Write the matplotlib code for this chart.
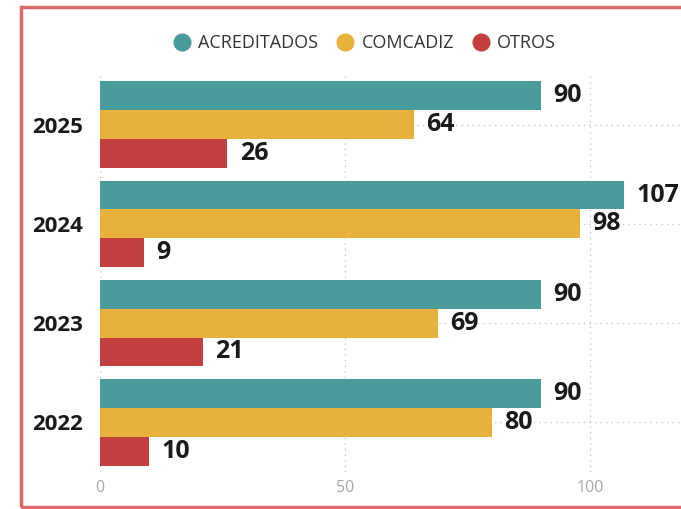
import matplotlib.pyplot as plt
import numpy as np
from matplotlib.patches import Rectangle
from matplotlib.lines import Line2D

years = ["2022", "2023", "2024", "2025"]
acreditados = [90, 90, 107, 90]
comcadiz = [80, 69, 98, 64]
otros = [10, 21, 9, 26]
series_names = ["ACREDITADOS", "COMCADIZ", "OTROS"]
colors = ["#4a9b9b", "#e8b13c", "#c43f3f"]

plt.rcParams["font.family"] = ["Open Sans", "DejaVu Sans"]

fig = plt.figure(figsize=(6.81, 5.09), dpi=100)
ax = fig.add_axes([100 / 681, 37 / 509, 581 / 681, 397 / 509])

y = np.arange(len(years))
h = 0.29
series = [acreditados, comcadiz, otros]
offsets = [h, 0, -h]
for vals, off, col, name in zip(series, offsets, colors, series_names):
    bars = ax.barh(y + off, vals, height=h, color=col, label=name, zorder=2)
    for b, v in zip(bars, vals):
        ax.annotate(str(v), (b.get_width(), b.get_y() + b.get_height() / 2),
                    xytext=(9, 0), textcoords="offset points", va="center",
                    ha="left", fontsize=18, fontweight="bold", color="#1a1a1a",
                    annotation_clip=False)

ax.set_xlim(0, 581 / 4.9)
ax.set_ylim(-0.5, 3.5)
ax.set_yticks(y)
ax.set_yticklabels(years, fontsize=16, fontweight="bold", color="#1a1a1a")
ax.set_xticks([0, 50, 100])
ax.tick_params(axis="x", labelsize=11.5, colors="#a8a8a8", length=0, pad=6)
ax.tick_params(axis="y", length=0, pad=12)
for s in ax.spines.values():
    s.set_visible(False)
ax.grid(True, linestyle=(0, (1, 3)), color="#c8c8c8", linewidth=1, zorder=0)
ax.set_axisbelow(True)

hd = [Line2D([], [], marker="o", linestyle="", markersize=12, color=c) for c in colors]
fig.legend(hd, series_names, loc="center", bbox_to_anchor=(360 / 681, 1 - 43 / 509),
           ncol=3, frameon=False, fontsize=13, handletextpad=-0.1,
           columnspacing=0.5, labelcolor="#333333")

fig.patches.append(Rectangle((21 / 681, 2 / 509), 2, 500 / 509, transform=fig.transFigure,
                             fill=False, edgecolor="#d9504c", linewidth=2.5, alpha=0.85))

fig.savefig("out.png", dpi=100)
